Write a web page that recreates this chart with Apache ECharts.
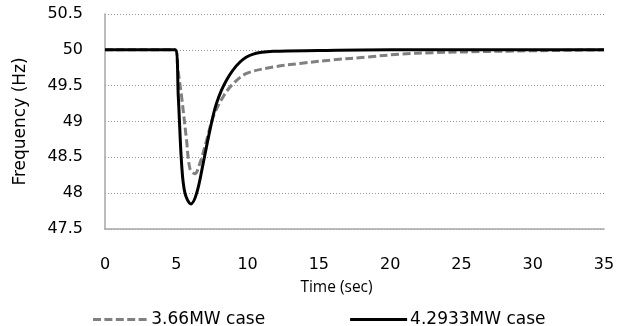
<!DOCTYPE html>
<html><head><meta charset="utf-8">
<script src="https://cdn.jsdelivr.net/npm/echarts@6/dist/echarts.min.js"></script>
<style>html,body{margin:0;padding:0;background:#fff}#c{width:626px;height:326px}</style>
</head><body><div id="c"></div>
<script>
const xTicks = [0, 5, 10, 15, 20, 25, 30, 35];
const yTicks = [47.5, 48, 48.5, 49, 49.5, 50, 50.5];
const timeA = [0, 4.95, 5.1, 5.37, 5.72, 5.96, 6.3, 6.66, 7.13, 7.6, 8.3, 9.0, 9.93, 11.8, 13.67, 16, 18.4, 20.7, 23, 27.7, 35];
const freqA = [50, 50, 49.75, 49.35, 48.74, 48.34, 48.27, 48.42, 48.74, 49.07, 49.35, 49.53, 49.67, 49.76, 49.81, 49.86, 49.9, 49.94, 49.96, 49.98, 50];
const timeB = [0, 4.92, 5.14, 5.37, 5.61, 6.03, 6.43, 6.89, 7.36, 7.83, 8.53, 9.47, 10.4, 11.8, 15, 20, 25, 30, 35];
const freqB = [50, 50, 49.35, 48.42, 48.0, 47.85, 48.0, 48.42, 48.88, 49.26, 49.58, 49.83, 49.94, 49.98, 49.99, 50, 50, 50, 50];
const nameA = '3.66MW case';
const nameB = '4.2933MW case';

const chart = echarts.init(document.getElementById('c'));
const f1 = 'Open Sans';
const f2 = 'DejaVu Sans';
const dashIcon = 'path://M0,0h8v3h-8zM11.4,0h8v3h-8zM22.8,0h8v3h-8zM34.2,0h8v3h-8zM45.6,0h8v3h-8z';
const solidIcon = 'path://M0,0h57v3h-57z';
chart.setOption({
  animation: false,
  textStyle: { fontFamily: f2 },
  grid: { left: 105, right: 22, top: 14, bottom: 97 },
  legend: {
    top: 306, left: 88, itemGap: 85, itemWidth: 57, itemHeight: 3,
    itemStyle: { borderWidth: 0 },
    textStyle: { fontSize: 17, color: '#000', fontFamily: f2, padding: [0, 0, 0, -2] },
    data: [
      { name: nameA, icon: dashIcon },
      { name: nameB, icon: solidIcon }
    ]
  },
  xAxis: {
    type: 'value', min: 0, max: 35, interval: 5,
    name: 'Time (sec)', nameLocation: 'middle', nameGap: 51,
    nameTextStyle: { fontSize: 15.5, color: '#000', fontFamily: f1, padding: [0, 36, 0, 0] },
    axisLine: { show: true, lineStyle: { color: '#a6a6a6', width: 1.5 } },
    axisTick: { show: false },
    splitLine: { show: false },
    axisLabel: { fontSize: 16, color: '#000', margin: 28, fontFamily: f2 }
  },
  yAxis: {
    type: 'value', min: 47.5, max: 50.5, interval: 0.5,
    name: 'Frequency (Hz)', nameLocation: 'middle', nameGap: 76, nameRotate: 90,
    nameTextStyle: { fontSize: 17, color: '#000', fontFamily: f2 },
    axisLine: { show: true, lineStyle: { color: '#a6a6a6', width: 1.5 } },
    axisTick: { show: false },
    splitLine: { show: true, lineStyle: { color: '#999', type: [1, 2], width: 1 } },
    axisLabel: { fontSize: 16, color: '#000', margin: 22, fontFamily: f2,
      formatter: v => String(v) }
  },
  series: [
    { name: nameA, type: 'line', smooth: 0.35, symbol: 'none', z: 2,
      lineStyle: { color: '#808080', width: 3, type: [8, 3.5] },
      itemStyle: { color: '#808080' },
      data: timeA.map((t, i) => [t, freqA[i]]) },
    { name: nameB, type: 'line', smooth: 0.35, symbol: 'none', z: 3,
      lineStyle: { color: '#000', width: 3 },
      itemStyle: { color: '#000' },
      data: timeB.map((t, i) => [t, freqB[i]]) }
  ]
});
</script></body></html>
